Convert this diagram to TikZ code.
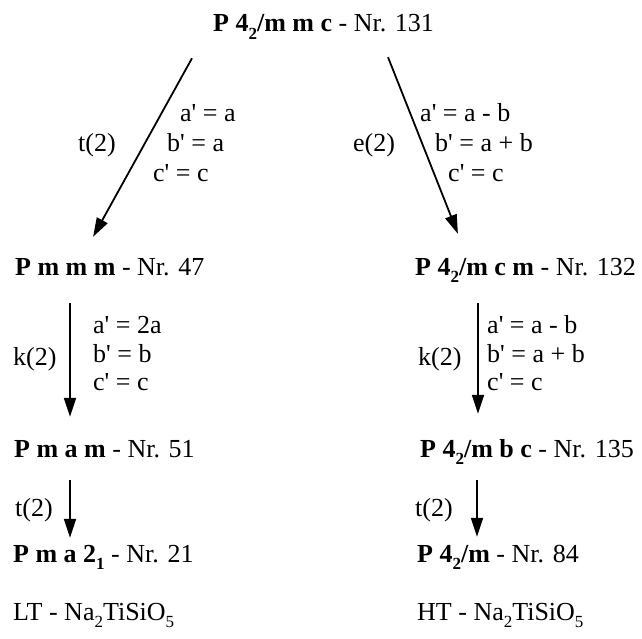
\documentclass[tikz,border=0pt]{standalone}
\usepackage{fontspec}
\setmainfont{Liberation Serif}
\usetikzlibrary{arrows.meta}
% lowered index as in 4_2, Na_2
\newcommand{\low}[1]{\raisebox{-0.3em}{\fontsize{17}{17}\selectfont #1}}
\newcommand{\primemark}{\textquotesingle}

\begin{document}
\begin{tikzpicture}[x=1pt, y=-1pt,
    every node/.style={font=\fontsize{26}{30}\selectfont},
    grp/.style={anchor=base west, inner sep=0pt, text height=16pt, text depth=6pt},
    rel/.style={anchor=base west, inner sep=0pt},
    arr/.style={-{Triangle[length=19pt,width=12pt]}, line width=1.8pt}
]
\useasboundingbox (0,0) rectangle (642,639);

% space groups
\node[grp] (g131) at (213,32) {\textbf{P 4\low{2}/m m c} - Nr. 131};
\node[grp] (g47)  at (15,275) {\textbf{P m m m} - Nr. 47};
\node[grp] (g132) at (415,275) {\textbf{P 4\low{2}/m c m} - Nr. 132};
\node[grp] (g51)  at (14,457) {\textbf{P m a m} - Nr. 51};
\node[grp] (g135) at (420,457) {\textbf{P 4\low{2}/m b c} - Nr. 135};
\node[grp] (g21)  at (13,562) {\textbf{P m a 2\low{1}} - Nr. 21};
\node[grp] (g84)  at (417,562) {\textbf{P 4\low{2}/m} - Nr. 84};
\node[grp] (lt)   at (13,620) {LT - Na\low{2}TiSiO\low{5}};
\node[grp] (ht)   at (417,620) {HT - Na\low{2}TiSiO\low{5}};

% subgroup steps
\draw[arr, shorten <=22.9pt, shorten >=25.1pt]
    ([xshift=-9.9pt]g131.south west) -- ([xshift=65.9pt]g47.north west);
\draw[arr, shorten <=20.4pt, shorten >=26.9pt]
    ([xshift=167.5pt]g131.south west) -- ([xshift=52.8pt]g132.north west);
\draw[arr, shorten <=22pt, shorten >=24pt]
    ([xshift=55pt]g47.south west) -- ([xshift=56pt]g51.north west);
\draw[arr, shorten <=22pt, shorten >=27pt]
    ([xshift=63pt]g132.south west) -- ([xshift=58pt]g135.north west);
\draw[arr, shorten <=17pt, shorten >=8pt]
    ([xshift=56pt]g51.south west) -- ([xshift=57pt]g21.north west);
\draw[arr, shorten <=17pt, shorten >=9pt]
    ([xshift=57pt]g135.south west) -- ([xshift=60pt]g84.north west);

% indices and basis relations
\node[rel] (t1) at (78,152) {t(2)};
\node[rel] (l1a) at (180,122) {a\primemark{} = a};
\node[rel] (l1b) at (167,152) {b\primemark{} = a};
\node[rel] (l1c) at (153,182) {c\primemark{} = c};

\node[rel] (e1) at (353,152) {e(2)};
\node[rel] (r1a) at (420,122) {a\primemark{} = a - b};
\node[rel] (r1b) at (435,152) {b\primemark{} = a + b};
\node[rel] (r1c) at (448,182) {c\primemark{} = c};

\node[rel] (k1) at (13,365) {k(2)};
\node[rel] (l2a) at (93,333) {a\primemark{} = 2a};
\node[rel] (l2b) at (93,362) {b\primemark{} = b};
\node[rel] (l2c) at (93,390) {c\primemark{} = c};

\node[rel] (k2) at (418,365) {k(2)};
\node[rel] (r2a) at (487,333) {a\primemark{} = a - b};
\node[rel] (r2b) at (487,362) {b\primemark{} = a + b};
\node[rel] (r2c) at (487,390) {c\primemark{} = c};

\node[rel] (t2) at (15,516) {t(2)};
\node[rel] (t3) at (415,516) {t(2)};
\end{tikzpicture}
\end{document}
